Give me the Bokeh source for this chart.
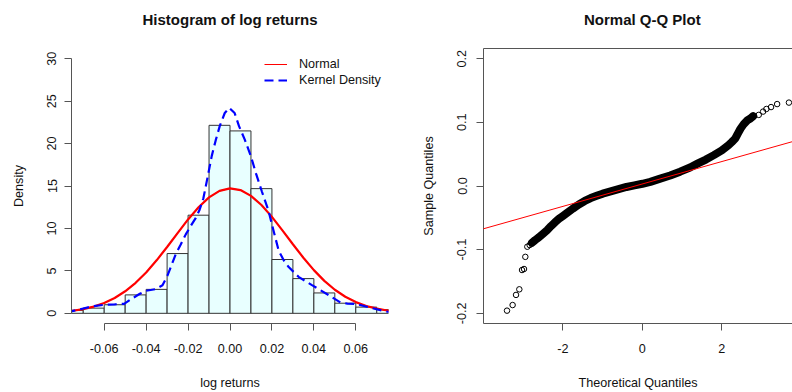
from bokeh.plotting import figure
from bokeh.models import Range1d, FixedTicker, LinearAxis, Legend, LegendItem, Slope
from bokeh.layouts import row
from bokeh.embed import file_html
from bokeh.resources import INLINE

# ---------------- data ----------------
hist_breaks = [-0.08, -0.07, -0.06, -0.05, -0.04, -0.03, -0.02, -0.01, 0.00,
               0.01, 0.02, 0.03, 0.04, 0.05, 0.06, 0.07, 0.08]
hist_density = [0.35, 0.61, 1.01, 2.17, 2.82, 7.04, 11.56, 22.15, 21.49,
                14.69, 6.34, 4.09, 2.40, 1.19, 0.73, 0.43]

normal_x = [-0.080, -0.075, -0.070, -0.065, -0.060, -0.055, -0.050, -0.045,
            -0.040, -0.035, -0.030, -0.025, -0.020, -0.015, -0.010, -0.005,
            0.000, 0.005, 0.010, 0.015, 0.020, 0.025, 0.030, 0.035, 0.040,
            0.045, 0.050, 0.055, 0.060, 0.065, 0.070, 0.075, 0.080]
normal_density = [0.179, 0.304, 0.499, 0.793, 1.218, 1.808, 2.594, 3.596,
                  4.819, 6.241, 7.813, 9.455, 11.06, 12.50, 13.66, 14.42,
                  14.72, 14.52, 13.84, 12.76, 11.36, 9.78, 8.14, 6.546, 5.089,
                  3.823, 2.776, 1.949, 1.322, 0.867, 0.549, 0.336, 0.199]

kde_x = [-0.0780, -0.0753, -0.0695, -0.0650, -0.0600, -0.0550, -0.0505, -0.0465,
         -0.0430, -0.0401, -0.0354, -0.0322, -0.0298, -0.0280, -0.0259, -0.0235,
         -0.0211, -0.0187, -0.0163, -0.0145, -0.0127, -0.0108, -0.0087, -0.0068,
         -0.0049, -0.0025, -0.0003, 0.0022, 0.0043, 0.0070, 0.0099, 0.0125,
         0.0152, 0.0184, 0.0208, 0.0232, 0.0255, 0.0280, 0.0327, 0.0391,
         0.0430, 0.0470, 0.0526, 0.0560, 0.0597, 0.0660, 0.0740, 0.0780]
kde_density = [0.18, 0.25, 0.60, 0.85, 1.00, 1.05, 1.12, 1.77,
               2.30, 2.65, 2.85, 3.30, 4.46, 5.60, 6.96, 8.10,
               9.30, 10.30, 11.25, 12.20, 13.55, 15.90, 18.55, 20.40,
               22.05, 23.60, 24.20, 23.60, 22.05, 20.50, 18.55, 16.40,
               14.35, 12.05, 9.70, 7.40, 6.30, 5.45, 4.30, 3.32,
               2.75, 2.16, 1.28, 1.15, 1.12, 0.73, 0.23, 0.12]

hist_xticks = [-0.06, -0.04, -0.02, 0.0, 0.02, 0.04, 0.06]
hist_xtick_labels = ["-0.06", "-0.04", "-0.02", "0.00", "0.02", "0.04", "0.06"]
hist_yticks = [0, 5, 10, 15, 20, 25, 30]
hist_ytick_labels = ["0", "5", "10", "15", "20", "25", "30"]

qq_tail_theoretical = [-3.408, -3.267, -3.181, -3.098, -3.030, -2.980, -2.947,
                       -2.897, -2.838, 2.930, 3.040, 3.123, 3.240, 3.393, 3.690]
qq_tail_sample = [-0.1958, -0.1870, -0.1711, -0.1623, -0.1320, -0.1304, -0.1113,
                  -0.0954, -0.0928, 0.1117, 0.1169, 0.1210, 0.1240, 0.1287, 0.1310]
qq_band_theoretical = [-2.779, -2.70, -2.612, -2.50, -2.40, -2.30, -2.20, -2.10,
                       -2.00, -1.90, -1.75, -1.60, -1.45, -1.30, -1.15, -1.00,
                       -0.80, -0.60, -0.40, -0.20, 0.00, 0.20, 0.45, 0.70, 0.95,
                       1.20, 1.40, 1.60, 1.80, 2.00, 2.17, 2.25, 2.34, 2.40,
                       2.47, 2.55, 2.64, 2.72, 2.79]
qq_band_sample = [-0.0892, -0.0850, -0.0810, -0.0750, -0.0696, -0.0630, -0.0570,
                  -0.0515, -0.0470, -0.0425, -0.0355, -0.0290, -0.0235, -0.0190,
                  -0.0155, -0.0120, -0.0085, -0.0050, -0.0015, 0.0010, 0.0035,
                  0.0065, 0.0115, 0.0165, 0.0225, 0.0290, 0.0355, 0.0415, 0.0485,
                  0.0560, 0.0643, 0.0690, 0.0747, 0.0820, 0.0900, 0.0970, 0.1030,
                  0.1060, 0.1097]
qq_line_slope = 0.0176
qq_line_intercept = 0.0032

qq_xticks = [-2, 0, 2]
qq_xtick_labels = ["-2", "0", "2"]
qq_yticks = [-0.2, -0.1, 0.0, 0.1, 0.2]
qq_ytick_labels = ["-0.2", "-0.1", "0.0", "0.1", "0.2"]

# ---------------- styling ----------------
FONT = "Liberation Sans"
TICK_PX = "12.6px"
AXIS_COLOR = "#555555"


def style_axis(ax, ticks, labels, standoff, bounds=None):
    ax.ticker = FixedTicker(ticks=ticks)
    ax.major_label_overrides = dict(zip(ticks, labels))
    ax.minor_tick_line_color = None
    ax.major_tick_in = 0
    ax.major_tick_out = 7
    ax.major_tick_line_color = AXIS_COLOR
    ax.axis_line_color = AXIS_COLOR
    ax.major_label_text_font = FONT
    ax.major_label_text_font_size = TICK_PX
    ax.major_label_text_color = "#111111"
    ax.major_label_standoff = standoff
    ax.axis_label_text_font = FONT
    ax.axis_label_text_font_size = TICK_PX
    ax.axis_label_text_font_style = "normal"
    ax.axis_label_text_color = "#111111"
    if bounds is not None:
        ax.bounds = bounds


def style_title(t, text, align="center", offset=0):
    # the trailing empty line keeps a gap between the title and the frame
    t.text = text + "\n"
    t.align = align
    t.offset = offset
    t.vertical_align = "bottom"
    t.standoff = 8
    t.text_font = FONT
    t.text_font_size = "15px"
    t.text_font_style = "bold"
    t.text_color = "#111111"


# ---------------- left: histogram ----------------
p1 = figure(width=400, height=392, output_backend="svg", toolbar_location=None,
            x_range=Range1d(-0.0756, 0.0756), y_range=Range1d(-1.2, 31.2),
            min_border_left=71, min_border_right=12, min_border_top=48,
            min_border_bottom=65)
p1.xgrid.visible = False
p1.ygrid.visible = False
p1.outline_line_color = None
p1.background_fill_color = "white"
p1.border_fill_color = "white"
style_title(p1.title, "Histogram of log returns")

style_axis(p1.xaxis[0], hist_xticks, hist_xtick_labels, 13,
           (hist_xticks[0], hist_xticks[-1]))
p1.xaxis[0].axis_label = "log returns"
p1.xaxis[0].axis_label_standoff = 20
style_axis(p1.yaxis[0], hist_yticks, hist_ytick_labels, 8,
           (hist_yticks[0], hist_yticks[-1]))
p1.yaxis[0].major_label_orientation = "vertical"
p1.yaxis[0].axis_label = "Density"
p1.yaxis[0].axis_label_standoff = 19

p1.quad(left=hist_breaks[:-1], right=hist_breaks[1:], top=hist_density,
        bottom=0, fill_color="#E8FFFF", line_color="#333333", line_width=1)
# thin copy of the normal curve, used only as the legend's sample line
leg_norm = p1.line(normal_x, normal_density, line_color="red", line_width=1)
p1.line(normal_x, normal_density, line_color="red", line_width=2.2)
kde_line = p1.line(kde_x, kde_density, line_color="blue", line_width=2.2,
                   line_dash="9 5")

legend = Legend(items=[LegendItem(label="Normal", renderers=[leg_norm]),
                       LegendItem(label="Kernel Density", renderers=[kde_line])],
                location=(193, 235), padding=0, margin=0, spacing=0,
                glyph_width=23, glyph_height=16, label_height=16,
                label_standoff=12, border_line_color=None,
                background_fill_alpha=0, label_text_font=FONT,
                label_text_font_size=TICK_PX, label_text_color="#111111")
p1.add_layout(legend)

# ---------------- right: Q-Q plot ----------------
p2 = figure(width=392, height=392, output_backend="svg", toolbar_location=None,
            x_range=Range1d(-4.0, 3.78), y_range=Range1d(-0.216, 0.216),
            min_border_left=83, min_border_right=0, min_border_top=48,
            min_border_bottom=65)
p2.xgrid.visible = False
p2.ygrid.visible = False
p2.outline_line_color = None
p2.background_fill_color = "white"
p2.border_fill_color = "white"
style_title(p2.title, "Normal Q-Q Plot", align="left", offset=100.5)

style_axis(p2.xaxis[0], qq_xticks, qq_xtick_labels, 13)
p2.xaxis[0].axis_label = "Theoretical Quantiles"
p2.xaxis[0].axis_label_standoff = 20
style_axis(p2.yaxis[0], qq_yticks, qq_ytick_labels, 10)
p2.yaxis[0].major_label_orientation = "vertical"
p2.yaxis[0].axis_label = "Sample Quantiles"
p2.yaxis[0].axis_label_standoff = 19

top_axis = LinearAxis(ticker=FixedTicker(ticks=[]), axis_line_color=AXIS_COLOR,
                      major_tick_line_color=None, minor_tick_line_color=None)
p2.add_layout(top_axis, "above")

p2.line(qq_band_theoretical, qq_band_sample, line_color="black", line_width=8,
        line_join="round", line_cap="round")
p2.scatter(qq_band_theoretical, qq_band_sample, marker="circle", size=5.5,
           fill_color=None, line_color="black", line_width=1)
p2.scatter(qq_tail_theoretical, qq_tail_sample, marker="circle", size=5.5,
           fill_color=None, line_color="black", line_width=1)
p2.add_layout(Slope(gradient=qq_line_slope, y_intercept=qq_line_intercept,
                    line_color="red", line_width=1))

layout = row(p1, p2)
with open("out.html", "w") as f:
    f.write(file_html(layout, INLINE))
